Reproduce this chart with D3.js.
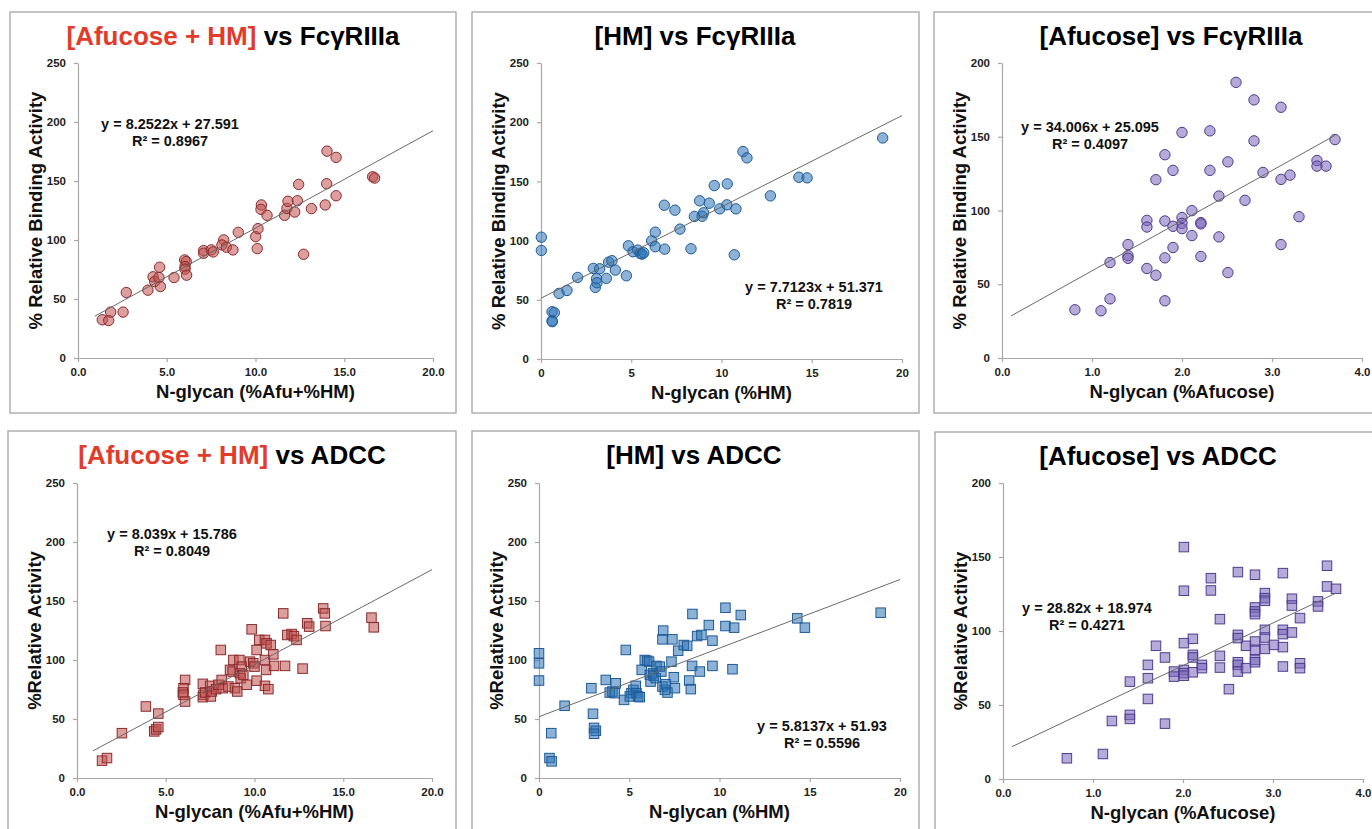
<!DOCTYPE html>
<html lang="en">
<head>
<meta charset="UTF-8">
<title>N-glycan vs FcγRIIIa binding and ADCC</title>
<script src="https://d3js.org/d3.v7.min.js"></script>
<style>
    body { margin: 0; background: #fff; }
    svg text { font-family: "Liberation Sans", Arial, sans-serif; font-weight: bold; white-space: pre; }
    .frame { fill: none; stroke: #a3a3a3; stroke-width: 1.3; }
    .axis path, .axis line { stroke: #a8a8a8; stroke-width: 1.2; }
    .axis text { font-size: 11.5px; fill: #222; }
    .title { font-size: 26px; fill: #000; }
    .title .hl { fill: #e23b2c; }
    .axis-title { font-size: 18.5px; fill: #111; }
    .eq { font-size: 14.5px; fill: #111; }
    .trend { stroke: #6a6a6a; stroke-width: 1; fill: none; }
</style>
</head>
<body>
<svg id="chart" width="1372" height="829"></svg>
<script>
// ---- data ----
const titlePrefix = ["[Afucose + HM]", "[HM]", "[Afucose]", "[Afucose + HM]", "[HM]", "[Afucose]"];
const titleSuffix = [" vs FcγRIIIa", " vs FcγRIIIa", " vs FcγRIIIa", " vs ADCC", " vs ADCC", " vs ADCC"];
const prefixRed = [true, false, false, true, false, false];
const xTitles = ["N-glycan (%Afu+%HM)", "N-glycan (%HM)", "N-glycan (%Afucose)",
                 "N-glycan (%Afu+%HM)", "N-glycan (%HM)", "N-glycan (%Afucose)"];
const yTitles = ["% Relative Binding Activity", "% Relative Binding Activity", "% Relative Binding Activity",
                 "%Relative Activity", "%Relative Activity", "%Relative Activity"];
const equations = ["y = 8.2522x + 27.591", "y = 7.7123x + 51.371", "y = 34.006x + 25.095",
                   "y = 8.039x + 15.786", "y = 5.8137x + 51.93", "y = 28.82x + 18.974"];
const rSquared = ["R² = 0.8967", "R² = 0.7819", "R² = 0.4097", "R² = 0.8049", "R² = 0.5596", "R² = 0.4271"];
const slopes = [8.2522, 7.7123, 34.006, 8.039, 5.8137, 28.82];
const intercepts = [27.591, 51.371, 25.095, 15.786, 51.93, 18.974];
const trendFrom = [0.95, 0, 0.1, 0.9, 0, 0.1];
const trendTo = [20, 20, 3.7, 20, 20, 3.7];

const xTicksWide = [0, 5, 10, 15, 20];
const xTicksAfu = [0, 1, 2, 3, 4];
const yTicks250 = [0, 50, 100, 150, 200, 250];
const yTicks200 = [0, 50, 100, 150, 200];

const afuHmFc = [[1.37,32.4],[1.73,31.8],[1.84,38.9],[2.54,38.9],[2.72,55.5],[3.94,57.5],[4.23,68.8],[4.32,64.8],
    [4.56,68.2],[4.60,76.9],[4.64,60.6],[5.41,68.2],[6.01,83.1],[6.10,81.7],[6.03,77.5],[6.03,75.3],[6.12,70.2],
    [7.08,91.0],[7.08,88.8],[7.51,91.6],[7.62,89.9],[8.21,100.1],[8.11,95.8],[8.36,93.9],[8.73,91.6],[9.03,106.5],
    [10.01,102.9],[10.14,109.6],[10.10,92.7],[10.33,129.7],[10.31,126.0],[10.65,120.9],[11.64,120.9],[11.77,126.8],
    [11.83,132.8],[12.21,123.7],[12.36,133.3],[12.43,147.1],[12.71,87.9],[13.15,126.6],[13.93,129.7],[14.03,175.3],
    [14.01,147.7],[14.54,170.0],[14.54,137.5],[16.60,153.6],[16.71,152.5]];

const hmFc = [[0.02,102.9],[0.02,91.7],[0.61,39.9],[0.74,39.1],[0.61,32.3],[0.63,31.5],[1.00,55.4],[1.44,57.9],
    [2.03,68.9],[2.90,76.5],[3.01,60.5],[3.08,67.8],[3.10,64.4],[3.25,76.2],[3.62,68.1],[3.75,81.8],[3.93,83.0],
    [4.12,75.1],[4.73,70.3],[4.84,95.6],[5.10,90.6],[5.36,92.0],[5.50,89.1],[5.60,88.6],[5.69,89.7],[6.13,99.8],
    [6.33,107.1],[6.33,94.8],[6.85,92.8],[6.83,129.9],[7.42,125.7],[7.70,109.7],[8.31,93.1],[8.50,120.4],[8.79,133.6],
    [8.93,120.6],[9.01,123.5],[9.32,131.6],[9.60,146.5],[9.90,126.8],[10.32,147.9],[10.30,130.2],[10.71,88.0],
    [10.80,126.8],[11.19,175.2],[11.41,169.9],[12.71,137.8],[14.29,153.5],[14.74,153.0],[18.93,186.7]];

const afuFc = [[0.81,32.7],[1.10,32.0],[1.20,40.1],[1.20,64.7],[1.40,76.9],[1.40,69.4],[1.40,67.6],[1.61,60.7],
    [1.61,93.3],[1.61,88.8],[1.71,120.9],[1.71,56.1],[1.81,137.8],[1.81,92.9],[1.81,67.9],[1.81,38.8],[1.90,127.2],
    [1.90,89.3],[1.90,74.9],[2.00,152.9],[2.00,95.2],[2.00,91.3],[2.00,87.7],[2.11,99.9],[2.11,83.0],[2.21,91.8],
    [2.21,90.9],[2.21,68.8],[2.31,154.0],[2.31,127.2],[2.41,109.8],[2.41,82.1],[2.51,133.0],[2.51,57.9],[2.60,186.9],
    [2.70,106.9],[2.80,175.0],[2.80,147.2],[2.90,125.8],[3.10,170.0],[3.10,121.1],[3.10,76.9],[3.20,124.0],
    [3.30,95.8],[3.50,133.9],[3.50,130.1],[3.60,130.1],[3.70,148.1]];

const afuHmAdcc = [[1.41,14.7],[1.69,16.9],[2.53,38.0],[3.88,60.6],[4.35,39.5],[4.46,41.2],[4.58,43.2],[4.58,54.6],
    [6.09,83.1],[6.00,76.1],[5.96,72.5],[6.00,70.5],[6.09,64.8],[7.09,79.8],[7.12,70.5],[7.09,68.5],[7.22,72.5],
    [7.50,78.1],[7.54,69.1],[7.59,73.3],[7.84,75.3],[7.97,79.0],[8.10,108.5],[8.15,83.1],[8.21,76.1],[8.53,77.5],
    [8.62,91.6],[8.81,100.0],[8.77,90.2],[8.90,76.1],[9.03,73.3],[9.15,100.0],[9.18,88.8],[9.22,84.6],[9.28,94.4],
    [9.37,87.4],[9.56,79.0],[9.84,126.0],[9.75,98.6],[9.93,97.2],[10.00,94.4],[10.12,108.5],[10.12,82.5],
    [10.27,117.0],[10.59,117.0],[10.59,100.0],[10.65,91.6],[10.68,114.1],[10.59,78.1],[10.78,75.3],[10.91,112.7],
    [11.06,104.8],[11.10,95.0],[11.72,95.0],[11.62,139.5],[11.85,121.2],[12.09,122.0],[12.22,120.2],[12.37,117.0],
    [12.71,92.7],[12.97,131.1],[13.08,128.3],[13.87,143.7],[13.96,139.5],[14.00,128.8],[16.59,135.9],[16.72,127.7]];

const hmAdcc = [[0.0,105.7],[0.0,97.2],[0.0,82.6],[0.68,38.0],[0.58,16.9],[0.70,14.1],[1.42,61.2],[2.90,76.1],
    [2.99,54.4],[3.05,42.5],[3.15,40.0],[3.05,37.5],[3.70,83.1],[3.92,72.4],[4.07,73.3],[4.25,80.3],[4.20,71.9],
    [4.71,66.2],[4.81,108.5],[5.12,71.9],[5.03,69.1],[5.23,74.7],[5.36,78.1],[5.40,71.9],[5.49,69.1],[5.58,68.5],
    [5.69,91.6],[5.86,100.0],[5.99,99.4],[6.10,98.6],[6.14,87.4],[6.18,81.7],[6.32,88.8],[6.36,86.6],[6.47,84.6],
    [6.51,95.0],[6.69,94.4],[6.78,90.2],[6.84,77.5],[6.88,124.9],[6.84,117.5],[6.97,74.7],[7.03,79.5],[7.12,72.4],
    [7.34,98.6],[7.39,117.5],[7.47,85.4],[7.53,76.1],[7.71,107.9],[8.02,112.7],[8.21,112.0],[8.32,82.6],[8.41,75.3],
    [8.48,95.0],[8.50,139.0],[8.76,120.3],[8.91,90.2],[9.00,121.2],[9.41,129.6],[9.61,116.4],[9.61,95.0],
    [10.33,144.3],[10.33,128.8],[10.72,92.2],[10.81,127.4],[11.18,138.1],[14.31,135.3],[14.73,127.4],[18.93,140.1]];

const afuAdcc = [[0.71,14.0],[1.11,16.9],[1.21,39.2],[1.41,65.8],[1.41,43.3],[1.41,40.6],[1.61,77.1],[1.61,68.1],
    [1.61,54.1],[1.70,90.0],[1.80,82.1],[1.80,37.4],[1.90,72.6],[1.90,69.2],[2.01,156.7],[2.01,127.2],[2.01,91.8],
    [2.01,73.7],[2.01,71.5],[2.01,69.8],[2.11,94.7],[2.11,83.9],[2.11,82.1],[2.11,72.1],[2.21,77.1],[2.21,74.9],
    [2.31,135.7],[2.31,127.4],[2.41,108.0],[2.41,83.2],[2.41,75.3],[2.51,60.7],[2.61,139.8],[2.61,97.4],[2.61,95.2],
    [2.61,78.9],[2.61,77.1],[2.61,72.6],[2.70,90.0],[2.70,74.9],[2.80,138.0],[2.80,115.9],[2.80,113.2],[2.80,111.4],
    [2.80,92.9],[2.80,87.3],[2.80,80.5],[2.80,78.9],[2.91,125.6],[2.91,122.2],[2.91,120.4],[2.91,100.8],[2.91,95.6],
    [2.91,87.9],[3.01,90.6],[3.11,139.1],[3.11,100.8],[3.11,97.9],[3.11,89.1],[3.11,76.0],[3.21,121.8],[3.21,117.2],
    [3.21,99.0],[3.30,108.7],[3.30,78.2],[3.30,74.9],[3.50,120.0],[3.50,116.6],[3.60,144.1],[3.60,130.1],[3.70,128.5]];

const seriesData = [afuHmFc, hmFc, afuFc, afuHmAdcc, hmAdcc, afuAdcc];
const xTickSets = [xTicksWide, xTicksWide, xTicksAfu, xTicksWide, xTicksWide, xTicksAfu];
const yTickSets = [yTicks250, yTicks250, yTicks200, yTicks250, yTicks250, yTicks200];
const xFormats = [".1f", "d", ".1f", ".1f", "d", ".1f"];

// ---- layout (pixels) ----
const layout = [
    { box: [10, 12, 446, 401],   plot: [78, 433, 63, 358],     titleX: 233,  eq: [170, 129] },
    { box: [472, 12, 447, 401],  plot: [541, 902, 63, 359],    titleX: 695,  eq: [814, 292] },
    { box: [934, 12, 460, 401],  plot: [1002, 1362, 63, 358],  titleX: 1171, eq: [1090, 132] },
    { box: [8, 431, 448, 420],   plot: [77, 432, 483, 778],    titleX: 232,  eq: [172, 539] },
    { box: [472, 431, 447, 420], plot: [539, 900, 483, 778],   titleX: 694,  eq: [822, 731] },
    { box: [935, 432, 460, 420], plot: [1003, 1363, 483, 779], titleX: 1158, eq: [1087, 613] }
];
const markerStyles = [
    { shape: "circle", fill: "#c0504d", stroke: "#8a2a2c" },
    { shape: "circle", fill: "#2e75b6", stroke: "#1f5a96" },
    { shape: "circle", fill: "#7a66b8", stroke: "#4d3c8f" },
    { shape: "square", fill: "#c0504d", stroke: "#8a2a2c" },
    { shape: "square", fill: "#2e75b6", stroke: "#1f5a96" },
    { shape: "square", fill: "#7a66b8", stroke: "#4d3c8f" }
];

const svg = d3.select("#chart");

layout.forEach((L, i) => {
    const [bx, by, bw, bh] = L.box;
    const [left, right, top, bottom] = L.plot;
    const g = svg.append("g");

    g.append("rect").attr("class", "frame")
        .attr("x", bx).attr("y", by).attr("width", bw).attr("height", bh);

    // title
    const title = g.append("text").attr("class", "title")
        .attr("x", L.titleX).attr("y", by + 33)
        .attr("text-anchor", "middle");
    title.append("tspan").attr("class", prefixRed[i] ? "hl" : null).text(titlePrefix[i]);
    title.append("tspan").text(titleSuffix[i]);

    const xt = xTickSets[i], yt = yTickSets[i];
    const x = d3.scaleLinear().domain([0, d3.max(xt)]).range([left, right]);
    const y = d3.scaleLinear().domain([0, d3.max(yt)]).range([bottom, top]);

    g.append("g").attr("class", "axis")
        .attr("transform", `translate(${left},0)`)
        .call(d3.axisLeft(y).tickValues(yt).tickSize(4).tickSizeOuter(0).tickPadding(8));

    g.append("g").attr("class", "axis")
        .attr("transform", `translate(0,${bottom})`)
        .call(d3.axisBottom(x).tickValues(xt).tickSize(4).tickSizeOuter(0).tickPadding(6)
            .tickFormat(d3.format(xFormats[i])));

    // axis titles
    g.append("text").attr("class", "axis-title")
        .attr("x", (left + right) / 2).attr("y", bottom + 40)
        .attr("text-anchor", "middle").text(xTitles[i]);
    g.append("text").attr("class", "axis-title")
        .attr("transform", `translate(${left - 36},${(top + bottom) / 2}) rotate(-90)`)
        .attr("text-anchor", "middle").text(yTitles[i]);

    // markers
    const st = markerStyles[i];
    const pts = g.append("g");
    if (st.shape === "circle") {
        pts.selectAll("circle").data(seriesData[i]).join("circle")
            .attr("cx", d => x(d[0])).attr("cy", d => y(d[1])).attr("r", 5.2)
            .attr("fill", st.fill).attr("fill-opacity", 0.55)
            .attr("stroke", st.stroke).attr("stroke-width", 1);
    } else {
        const s = 9.5;
        pts.selectAll("rect").data(seriesData[i]).join("rect")
            .attr("x", d => x(d[0]) - s / 2).attr("y", d => y(d[1]) - s / 2)
            .attr("width", s).attr("height", s)
            .attr("fill", st.fill).attr("fill-opacity", 0.55)
            .attr("stroke", st.stroke).attr("stroke-width", 1);
    }

    // linear trend line
    const tx = [trendFrom[i], trendTo[i]];
    g.append("line").attr("class", "trend")
        .attr("x1", x(tx[0])).attr("y1", y(slopes[i] * tx[0] + intercepts[i]))
        .attr("x2", x(tx[1])).attr("y2", y(slopes[i] * tx[1] + intercepts[i]));

    // equation label
    g.append("text").attr("class", "eq").attr("text-anchor", "middle")
        .attr("x", L.eq[0]).attr("y", L.eq[1]).text(equations[i]);
    g.append("text").attr("class", "eq").attr("text-anchor", "middle")
        .attr("x", L.eq[0]).attr("y", L.eq[1] + 17).text(rSquared[i]);
});
</script>
</body>
</html>
